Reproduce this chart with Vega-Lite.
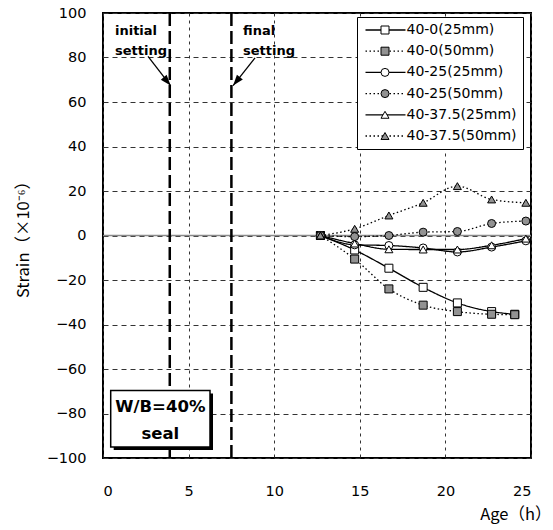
{
  "$schema": "https://vega.github.io/schema/vega-lite/v6.json",
  "autosize": {"type": "none"},
  "width": 428,
  "height": 445,
  "padding": {"left": 103, "top": 13, "right": 22, "bottom": 72},
  "background": "white",
  "config": {
    "view": {"stroke": "black", "strokeWidth": 2},
    "legend": {"symbolStrokeColor": "black"},
    "axis": {
      "labelFont": "DejaVu Sans",
      "labelFontSize": 14.5,
      "labelColor": "black",
      "ticks": false,
      "domain": false,
      "grid": true,
      "gridColor": "#333333",
      "gridWidth": 1,
      "titleColor": "black",
      "titleFont": "Noto Sans CJK JP",
      "titleFontSize": 16.5,
      "titleFontWeight": "normal"
    }
  },
  "datasets": {
    "strain": [
      {"series": "40-0(25mm)", "age": 12.7, "strain": 0},
      {"series": "40-0(25mm)", "age": 14.7, "strain": -6.5},
      {"series": "40-0(25mm)", "age": 16.7, "strain": -14.7},
      {"series": "40-0(25mm)", "age": 18.7, "strain": -23.3},
      {"series": "40-0(25mm)", "age": 20.7, "strain": -30.3},
      {"series": "40-0(25mm)", "age": 22.7, "strain": -34.2},
      {"series": "40-0(25mm)", "age": 24.05, "strain": -35.4},
      {"series": "40-0(50mm)", "age": 12.7, "strain": 0},
      {"series": "40-0(50mm)", "age": 14.7, "strain": -10.6},
      {"series": "40-0(50mm)", "age": 16.7, "strain": -24},
      {"series": "40-0(50mm)", "age": 18.7, "strain": -31.3},
      {"series": "40-0(50mm)", "age": 20.7, "strain": -34.2},
      {"series": "40-0(50mm)", "age": 22.7, "strain": -35.4},
      {"series": "40-0(50mm)", "age": 24.05, "strain": -35.6},
      {"series": "40-25(25mm)", "age": 12.7, "strain": 0},
      {"series": "40-25(25mm)", "age": 14.7, "strain": -4.2},
      {"series": "40-25(25mm)", "age": 16.7, "strain": -4.5},
      {"series": "40-25(25mm)", "age": 18.7, "strain": -5.6},
      {"series": "40-25(25mm)", "age": 20.7, "strain": -7.4},
      {"series": "40-25(25mm)", "age": 22.7, "strain": -5.2},
      {"series": "40-25(25mm)", "age": 24.7, "strain": -2.4},
      {"series": "40-25(50mm)", "age": 12.7, "strain": 0},
      {"series": "40-25(50mm)", "age": 14.7, "strain": -0.5},
      {"series": "40-25(50mm)", "age": 16.7, "strain": 0},
      {"series": "40-25(50mm)", "age": 18.7, "strain": 1.5},
      {"series": "40-25(50mm)", "age": 20.7, "strain": 1.8},
      {"series": "40-25(50mm)", "age": 22.7, "strain": 5.4},
      {"series": "40-25(50mm)", "age": 24.7, "strain": 6.5},
      {"series": "40-37.5(25mm)", "age": 12.7, "strain": 0},
      {"series": "40-37.5(25mm)", "age": 14.7, "strain": -3.6},
      {"series": "40-37.5(25mm)", "age": 16.7, "strain": -6.2},
      {"series": "40-37.5(25mm)", "age": 18.7, "strain": -6.3},
      {"series": "40-37.5(25mm)", "age": 20.7, "strain": -6.3},
      {"series": "40-37.5(25mm)", "age": 22.7, "strain": -4.4},
      {"series": "40-37.5(25mm)", "age": 24.7, "strain": -1.4},
      {"series": "40-37.5(50mm)", "age": 12.7, "strain": 0},
      {"series": "40-37.5(50mm)", "age": 14.7, "strain": 3.0},
      {"series": "40-37.5(50mm)", "age": 16.7, "strain": 9.0},
      {"series": "40-37.5(50mm)", "age": 18.7, "strain": 14.7},
      {"series": "40-37.5(50mm)", "age": 20.7, "strain": 22.2},
      {"series": "40-37.5(50mm)", "age": 22.7, "strain": 16.2},
      {"series": "40-37.5(50mm)", "age": 24.7, "strain": 14.7}
    ],
    "setting": [
      {"event": "initial setting", "age": 3.9},
      {"event": "final setting", "age": 7.5}
    ],
    "notes": [
      {"label": "initial", "age": 0.7, "strain": 92.1},
      {"label": "setting", "age": 0.7, "strain": 83.1},
      {"label": "final", "age": 8.18, "strain": 92.1},
      {"label": "setting", "age": 8.18, "strain": 83.1}
    ],
    "arrows": [
      {"dir": "initial", "age": 2.63, "strain": 80.5, "age2": 3.95, "strain2": 67.4},
      {"dir": "final", "age": 8.88, "strain": 79.8, "age2": 7.6, "strain2": 67.4}
    ],
    "box": [
      {"age": 0.45, "age2": 6.25, "strain": -69.7, "strain2": -95.1}
    ],
    "boxtext": [
      {"label": "W/B=40%", "age": 3.35, "strain": -77.2},
      {"label": "seal", "age": 3.35, "strain": -89.1}
    ]
  },
  "encoding": {
    "x": {
      "field": "age", "type": "quantitative",
      "scale": {"domain": [0, 25], "nice": false, "zero": false},
      "axis": {
        "values": [0, 5, 10, 15, 20, 25],
        "gridDash": [3, 4],
        "labelPadding": 26,
        "title": "Age（h）",
        "titleX": 448, "titleY": 56,
        "titleAlign": "right", "titleBaseline": "middle",
        "titleAnchor": null
      }
    },
    "y": {
      "field": "strain", "type": "quantitative",
      "scale": {"domain": [-100, 100], "nice": false, "zero": false},
      "axis": {
        "values": [-100, -80, -60, -40, -20, 0, 20, 40, 60, 80, 100],
        "gridDash": [5, 4],
        "labelPadding": 17,
        "title": "Strain（×10⁻⁶）",
        "titleX": -80, "titleY": 222,
        "titleAngle": -90, "titleAlign": "center", "titleBaseline": "middle"
      }
    }
  },
  "layer": [
    {
      "data": {"values": [{"level": 0}]},
      "mark": {"type": "rule", "color": "#8a8a8a", "strokeWidth": 1.5},
      "encoding": {"y": {"field": "level", "type": "quantitative"}, "x": null}
    },
    {
      "data": {"name": "setting"},
      "mark": {"type": "rule", "color": "black", "strokeWidth": 2.5, "strokeDash": [13, 5]},
      "encoding": {"y": null}
    },
    {
      "data": {"name": "strain"},
      "mark": {"type": "line", "color": "black", "strokeWidth": 1.3, "interpolate": "monotone"},
      "encoding": {
        "detail": {"field": "series"},
        "strokeDash": {
          "field": "series", "type": "nominal",
          "scale": {
            "domain": ["40-0(25mm)", "40-0(50mm)", "40-25(25mm)", "40-25(50mm)", "40-37.5(25mm)", "40-37.5(50mm)"],
            "range": [[1, 0], [1.5, 2.5], [1, 0], [1.5, 2.5], [1, 0], [1.5, 2.5]]
          },
          "legend": {
            "orient": "none", "legendX": 254, "legendY": 4,
            "title": null,
            "symbolType": "M-5,0H5", "symbolSize": 64, "symbolOffset": 15.5,
            "symbolStrokeWidth": 1.3, "symbolStrokeColor": "black",
            "labelFont": "DejaVu Sans", "labelFontSize": 14, "labelColor": "black",
            "labelOffset": 14, "rowPadding": 7.2, "padding": 6,
            "strokeColor": "black", "fillColor": "white"
          }
        }
      }
    },
    {
      "data": {"name": "strain"},
      "mark": {"type": "point", "filled": true, "size": 64, "strokeWidth": 1, "opacity": 1},
      "encoding": {
        "shape": {
          "field": "series", "type": "nominal",
          "scale": {
            "domain": ["40-0(25mm)", "40-0(50mm)", "40-25(25mm)", "40-25(50mm)", "40-37.5(25mm)", "40-37.5(50mm)"],
            "range": ["square", "square", "circle", "circle", "triangle-up", "triangle-up"]
          },
          "legend": {
            "orient": "none", "legendX": 269, "legendY": 4,
            "title": null,
            "symbolSize": 64, "symbolOffset": 0,
            "symbolStrokeWidth": 1, "symbolStrokeColor": "black",
            "labelFont": "DejaVu Sans", "labelFontSize": 14, "labelExpr": "''",
            "labelOffset": 4, "rowPadding": 7.2, "padding": 6
          }
        },
        "fill": {
          "field": "series", "type": "nominal",
          "scale": {
            "domain": ["40-0(25mm)", "40-0(50mm)", "40-25(25mm)", "40-25(50mm)", "40-37.5(25mm)", "40-37.5(50mm)"],
            "range": ["white", "#929292", "white", "#929292", "white", "#929292"]
          },
          "legend": {
            "orient": "none", "legendX": 269, "legendY": 4,
            "title": null,
            "symbolSize": 64, "symbolOffset": 0,
            "symbolStrokeWidth": 1, "symbolStrokeColor": "black",
            "labelFont": "DejaVu Sans", "labelFontSize": 14, "labelExpr": "''",
            "labelOffset": 4, "rowPadding": 7.2, "padding": 6
          }
        },
        "stroke": {
          "field": "series", "type": "nominal",
          "scale": {
            "domain": ["40-0(25mm)", "40-0(50mm)", "40-25(25mm)", "40-25(50mm)", "40-37.5(25mm)", "40-37.5(50mm)"],
            "range": ["black", "black", "black", "black", "black", "black"]
          },
          "legend": {
            "orient": "none", "legendX": 269, "legendY": 4,
            "title": null,
            "symbolSize": 64, "symbolOffset": 0,
            "symbolStrokeWidth": 1,
            "labelFont": "DejaVu Sans", "labelFontSize": 14, "labelExpr": "''",
            "labelOffset": 4, "rowPadding": 7.2, "padding": 6
          }
        }
      }
    },
    {
      "data": {"name": "box"},
      "mark": {"type": "rect", "fill": "black", "xOffset": 3, "x2Offset": 3, "yOffset": 3, "y2Offset": 3},
      "encoding": {"x2": {"field": "age2"}, "y2": {"field": "strain2"}}
    },
    {
      "data": {"name": "box"},
      "mark": {"type": "rect", "fill": "white", "stroke": "black", "strokeWidth": 1.5},
      "encoding": {"x2": {"field": "age2"}, "y2": {"field": "strain2"}}
    },
    {
      "data": {"name": "boxtext"},
      "mark": {"type": "text", "font": "DejaVu Sans", "fontWeight": "bold", "fontSize": 16.5, "align": "center", "baseline": "middle", "color": "black"},
      "encoding": {"text": {"field": "label"}}
    },
    {
      "data": {"name": "notes"},
      "mark": {"type": "text", "font": "DejaVu Sans", "fontWeight": "bold", "fontSize": 13, "align": "left", "baseline": "middle", "color": "black"},
      "encoding": {"text": {"field": "label"}}
    },
    {
      "data": {"name": "arrows"},
      "mark": {"type": "rule", "color": "black", "strokeWidth": 1.3},
      "encoding": {"x2": {"field": "age2"}, "y2": {"field": "strain2"}}
    },
    {
      "data": {"name": "arrows"},
      "transform": [{"filter": "datum.dir == 'initial'"}],
      "mark": {"type": "point", "shape": "M0,0L-0.6,-1.7L0.6,-1.7Z", "filled": true, "color": "black", "size": 160, "angle": 320, "opacity": 1},
      "encoding": {"x": {"field": "age2", "type": "quantitative"}, "y": {"field": "strain2", "type": "quantitative"}}
    },
    {
      "data": {"name": "arrows"},
      "transform": [{"filter": "datum.dir == 'final'"}],
      "mark": {"type": "point", "shape": "M0,0L-0.6,-1.7L0.6,-1.7Z", "filled": true, "color": "black", "size": 160, "angle": 39, "opacity": 1},
      "encoding": {"x": {"field": "age2", "type": "quantitative"}, "y": {"field": "strain2", "type": "quantitative"}}
    }
  ],
  "resolve": {"legend": {"strokeDash": "independent", "shape": "independent", "fill": "independent", "stroke": "independent"}}
}
